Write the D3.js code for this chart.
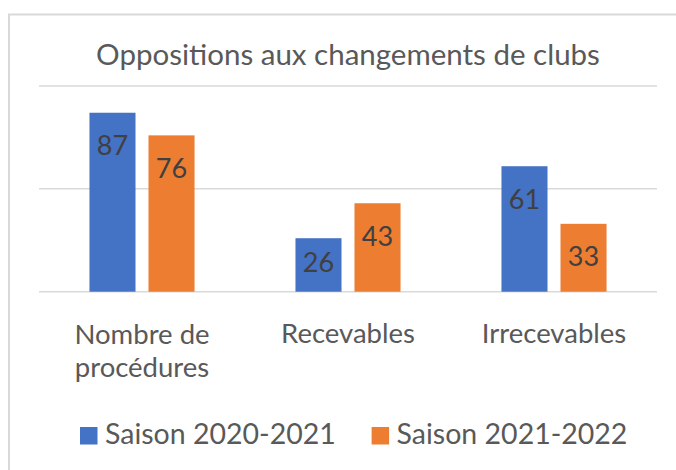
<!DOCTYPE html>
<html>
<head>
<meta charset="utf-8">
<script src="https://cdn.jsdelivr.net/npm/d3@7"></script>
<style>
  html, body { margin: 0; padding: 0; background: #ffffff; }
  svg { display: block; }
  text { font-family: Lato, "Open Sans", sans-serif; }
</style>
</head>
<body>
<svg id="chart" width="676" height="470"></svg>
<script>
const title = "Oppositions aux changements de clubs";
const categories = [["Nombre de", "procédures"], ["Recevables"], ["Irrecevables"]];
const seriesNames = ["Saison 2020-2021", "Saison 2021-2022"];
const season2020 = [87, 26, 61];
const season2021 = [76, 43, 33];
const gridTicks = [0, 50, 100];
const colors = ["#4472C4", "#ED7D31"];

const series = [season2020, season2021];
const svg = d3.select("#chart");
const W = 676, H = 470;
svg.append("rect").attr("width", W).attr("height", H).attr("fill", "#fff");

// outer chart border (extends past right/bottom edges)
svg.append("rect")
  .attr("x", 9).attr("y", 14.5)
  .attr("width", W + 20).attr("height", H + 20)
  .attr("fill", "none").attr("stroke", "#d9d9d9").attr("stroke-width", 2);

const plot = { left: 39, right: 657, top: 86, bottom: 291.7 };

const x0 = d3.scaleBand()
  .domain(d3.range(categories.length))
  .range([plot.left, plot.right])
  .paddingInner(0.49).paddingOuter(0.245);
const x1 = d3.scaleBand()
  .domain(d3.range(series.length))
  .range([0, x0.bandwidth()])
  .paddingInner(0.22).paddingOuter(0);
const y = d3.scaleLinear().domain([0, 100]).range([plot.bottom, plot.top]);

// gridlines
svg.append("g").selectAll("line").data(gridTicks).join("line")
  .attr("x1", plot.left).attr("x2", plot.right)
  .attr("y1", d => y(d)).attr("y2", d => y(d))
  .attr("stroke", "#d9d9d9").attr("stroke-width", 1.5);

// title
svg.append("text")
  .attr("x", (plot.left + plot.right) / 2).attr("y", 65)
  .attr("text-anchor", "middle")
  .attr("fill", "#595959")
  .style("font-size", "29.5px")
  .text(title);

// bars
const groups = svg.append("g").selectAll("g").data(categories).join("g")
  .attr("transform", (d, i) => `translate(${x0(i)},0)`);

groups.each(function(cat, ci) {
  const g = d3.select(this);
  series.forEach((s, si) => {
    const v = s[ci];
    g.append("rect")
      .attr("x", x1(si)).attr("width", x1.bandwidth())
      .attr("y", y(v)).attr("height", y(0) - y(v))
      .attr("fill", colors[si]);
    const ly = Math.min(y(v) + 42.5, y(0) - 19.5);
    g.append("text")
      .attr("x", x1(si) + x1.bandwidth() / 2)
      .attr("y", ly)
      .attr("text-anchor", "middle")
      .attr("fill", "#404040")
      .style("font-size", "27px")
      .text(v);
  });
});

// category labels
svg.append("g").selectAll("text").data(categories).join("text")
  .attr("text-anchor", "middle")
  .attr("fill", "#595959")
  .style("font-size", "27.5px")
  .attr("transform", (d, i) => `translate(${x0(i) + x0.bandwidth() / 2},${d.length > 1 ? 344 : 343})`)
  .each(function(lines) {
    const t = d3.select(this);
    lines.forEach((ln, k) => {
      t.append("tspan").attr("x", 0).attr("dy", k === 0 ? 0 : 33).text(ln);
    });
  });

// legend
const legend = svg.append("g");
const legendX = [80, 371.6];
seriesNames.forEach((name, i) => {
  const lg = legend.append("g").attr("transform", `translate(${legendX[i]},427)`);
  lg.append("rect").attr("width", 17.5).attr("height", 17.5).attr("fill", colors[i]);
  lg.append("text").attr("x", 25).attr("y", 17)
    .attr("fill", "#595959").style("font-size", "28.5px").text(name);
});
</script>
</body>
</html>
